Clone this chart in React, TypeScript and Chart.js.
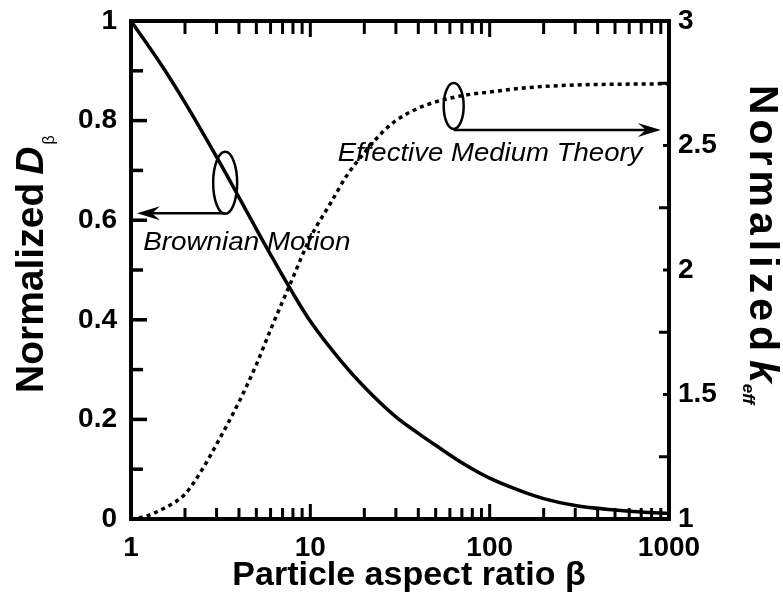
import React, { useEffect, useRef } from "react";
import { Chart, registerables } from "chart.js";

Chart.register(...registerables);

// Normalised Brownian diffusion coefficient D_beta (left axis)
const BROWNIAN_BETA = [1, 1.5, 2, 3, 4, 5, 6, 8, 10, 15, 20, 30, 40, 50, 70, 100, 150, 200, 300, 500, 700, 1000];
const BROWNIAN_D = [1.0, 0.908, 0.836, 0.727, 0.646, 0.582, 0.531, 0.453, 0.397, 0.315, 0.265, 0.205, 0.172, 0.148, 0.113, 0.082, 0.056, 0.041, 0.027, 0.018, 0.014, 0.011];

// Normalised effective-medium conductivity k_eff (right axis)
const EMT_BETA = [1, 1.2, 1.5, 2, 2.5, 3, 4, 5, 6, 8, 10, 13, 16, 20, 25, 30, 40, 50, 70, 100, 150, 200, 300, 500, 700, 1000];
const EMT_K = [1.0, 1.01, 1.04, 1.1, 1.2, 1.3, 1.47, 1.62, 1.76, 1.97, 2.13, 2.27, 2.38, 2.47, 2.55, 2.6, 2.65, 2.675, 2.7, 2.715, 2.73, 2.737, 2.743, 2.746, 2.747, 2.748];

// Axis ticks
const X_TICKS = [1, 10, 100, 1000];
const X_TICK_LABELS = ["1", "10", "100", "1000"];
const X_MINOR = [2, 3, 4, 5, 6, 7, 8, 9, 20, 30, 40, 50, 60, 70, 80, 90, 200, 300, 400, 500, 600, 700, 800, 900];
const LEFT_TICKS = [0, 0.2, 0.4, 0.6, 0.8, 1];
const LEFT_TICK_LABELS = ["0", "0.2", "0.4", "0.6", "0.8", "1"];
const LEFT_MINOR = [0.1, 0.3, 0.5, 0.7, 0.9];
const RIGHT_TICKS = [1, 1.5, 2, 2.5, 3];
const RIGHT_TICK_LABELS = ["1", "1.5", "2", "2.5", "3"];
const RIGHT_MINOR = [1.25, 1.75, 2.25, 2.75];

// Callouts, anchored in data units
const BROWNIAN_RING = { beta: 3.35, d: 0.675 };
const BROWNIAN_ARROW = { from: 3.35, to: 1.08, d: 0.614 };
const BROWNIAN_TEXT = { beta: 1.17, d: 0.54, text: "Brownian Motion" };
const EMT_RING = { beta: 63, k: 2.659 };
const EMT_ARROW = { from: 63, to: 900, k: 2.562 };
const EMT_TEXT = { beta: 14.2, k: 2.438, text: "Effective Medium Theory" };

const FONT = "'Liberation Sans', Arial, Helvetica, sans-serif";

function tickLine(ctx: CanvasRenderingContext2D, x1: number, y1: number, x2: number, y2: number) {
  ctx.beginPath();
  ctx.moveTo(x1, y1);
  ctx.lineTo(x2, y2);
  ctx.stroke();
}

function arrow(ctx: CanvasRenderingContext2D, x0: number, x1: number, y: number) {
  const dir = x1 > x0 ? 1 : -1;
  ctx.lineWidth = 2.5;
  tickLine(ctx, x0, y, x1 - dir * 12, y);
  ctx.beginPath();
  ctx.moveTo(x1, y);
  ctx.lineTo(x1 - dir * 23, y - 7);
  ctx.lineTo(x1 - dir * 15, y);
  ctx.lineTo(x1 - dir * 23, y + 7);
  ctx.closePath();
  ctx.fill();
}

function ring(ctx: CanvasRenderingContext2D, cx: number, cy: number, rx: number, ry: number) {
  ctx.lineWidth = 2.5;
  ctx.beginPath();
  ctx.ellipse(cx, cy, rx, ry, 0, 0, Math.PI * 2);
  ctx.stroke();
}

function stretchedText(ctx: CanvasRenderingContext2D, text: string, x: number, y: number, sx: number) {
  ctx.save();
  ctx.translate(x, y);
  ctx.scale(sx, 1);
  ctx.fillText(text, 0, 0);
  ctx.restore();
}

const frameAndNotes = {
  id: "frameAndNotes",
  afterDraw(chart: any) {
    const { ctx, chartArea: a, scales } = chart;
    const sx = scales.x;
    const sy = scales.y;
    const sy2 = scales.y2;
    ctx.save();
    ctx.strokeStyle = "#000";
    ctx.fillStyle = "#000";
    ctx.lineCap = "butt";

    // inward tick marks
    ctx.lineWidth = 3;
    X_TICKS.forEach((v) => {
      const px = sx.getPixelForValue(v);
      tickLine(ctx, px, a.bottom, px, a.bottom - 15);
      tickLine(ctx, px, a.top, px, a.top + 16);
    });
    X_MINOR.forEach((v) => {
      const px = sx.getPixelForValue(v);
      tickLine(ctx, px, a.bottom, px, a.bottom - 11);
      tickLine(ctx, px, a.top, px, a.top + 13);
    });
    ctx.lineWidth = 3.5;
    LEFT_TICKS.forEach((v) => {
      const py = sy.getPixelForValue(v);
      tickLine(ctx, a.left, py, a.left + 16, py);
    });
    LEFT_MINOR.forEach((v) => {
      const py = sy.getPixelForValue(v);
      tickLine(ctx, a.left, py, a.left + 12, py);
    });
    ctx.lineWidth = 3;
    RIGHT_TICKS.forEach((v) => {
      const py = sy2.getPixelForValue(v);
      tickLine(ctx, a.right, py, a.right - 6, py);
    });
    RIGHT_MINOR.forEach((v) => {
      const py = sy2.getPixelForValue(v);
      tickLine(ctx, a.right, py, a.right - 10, py);
    });

    // plot frame
    ctx.lineWidth = 4;
    ctx.strokeRect(a.left, a.top, a.right - a.left, a.bottom - a.top);

    // Brownian motion callout
    const bx = sx.getPixelForValue(BROWNIAN_RING.beta);
    const by = sy.getPixelForValue(BROWNIAN_RING.d);
    ring(ctx, bx, by, 12, 31);
    arrow(ctx, sx.getPixelForValue(BROWNIAN_ARROW.from), sx.getPixelForValue(BROWNIAN_ARROW.to), sy.getPixelForValue(BROWNIAN_ARROW.d));

    // effective medium callout
    const ex = sx.getPixelForValue(EMT_RING.beta);
    const ey = sy2.getPixelForValue(EMT_RING.k);
    ring(ctx, ex, ey, 10, 23);
    arrow(ctx, sx.getPixelForValue(EMT_ARROW.from), sx.getPixelForValue(EMT_ARROW.to), sy2.getPixelForValue(EMT_ARROW.k));

    ctx.font = `italic 26px ${FONT}`;
    ctx.textAlign = "left";
    ctx.textBaseline = "alphabetic";
    stretchedText(ctx, BROWNIAN_TEXT.text, sx.getPixelForValue(BROWNIAN_TEXT.beta), sy.getPixelForValue(BROWNIAN_TEXT.d), 1.07);
    stretchedText(ctx, EMT_TEXT.text, sx.getPixelForValue(EMT_TEXT.beta), sy2.getPixelForValue(EMT_TEXT.k), 1.06);

    // x-axis title
    ctx.font = `bold 34px ${FONT}`;
    ctx.textAlign = "center";
    ctx.fillText("Particle aspect ratio \u03b2", a.left + 278, a.bottom + 66);

    // left-axis title: Normalized D_beta
    ctx.save();
    ctx.translate(a.left - 88, a.bottom - 126);
    ctx.rotate(-Math.PI / 2);
    ctx.textAlign = "left";
    ctx.font = `bold 39px ${FONT}`;
    const w1 = ctx.measureText("Normalized").width;
    ctx.fillText("Normalized", 0, 0);
    ctx.font = `italic bold 39px ${FONT}`;
    ctx.fillText("D", w1 + 8, 0);
    const wD = ctx.measureText("D").width;
    ctx.font = `16px ${FONT}`;
    ctx.fillText("\u03b2", w1 + 8 + wD + 2, 11);
    ctx.restore();

    // right-axis title: Normalized k_eff
    ctx.save();
    ctx.translate(a.right + 81, a.top + 64);
    ctx.rotate(Math.PI / 2);
    ctx.textAlign = "left";
    ctx.font = `bold 41px ${FONT}`;
    (ctx as any).letterSpacing = "5px";
    const w2 = ctx.measureText("Normalized").width;
    ctx.fillText("Normalized", 0, 0);
    (ctx as any).letterSpacing = "0px";
    ctx.font = `italic bold 41px ${FONT}`;
    ctx.fillText("k", w2 + 4, 0);
    const wk = ctx.measureText("k").width;
    ctx.font = `italic bold 17px ${FONT}`;
    ctx.fillText("eff", w2 + 4 + wk + 1, 7);
    ctx.restore();

    ctx.restore();
  },
};

const tickFont = { family: FONT, size: 28, weight: "bold" as const };

// fixed scale footprints so the plot frame sits at a known place
const fitVertical = (width: number) => (s: any) => {
  s.width = width;
  s.paddingTop = 0;
  s.paddingBottom = 0;
};

export default function App() {
  const canvasRef = useRef<HTMLCanvasElement | null>(null);

  useEffect(() => {
    const canvas = canvasRef.current;
    if (!canvas) return;
    const chart = new Chart(canvas, {
      type: "line",
      data: {
        datasets: [
          {
            label: "Brownian Motion",
            data: BROWNIAN_BETA.map((b, i) => ({ x: b, y: BROWNIAN_D[i] })),
            yAxisID: "y",
            borderColor: "#000",
            borderWidth: 3.5,
            pointRadius: 0,
            cubicInterpolationMode: "monotone",
            fill: false,
          },
          {
            label: "Effective Medium Theory",
            data: EMT_BETA.map((b, i) => ({ x: b, y: EMT_K[i] })),
            yAxisID: "y2",
            borderColor: "#000",
            borderWidth: 3.5,
            borderDash: [4, 4],
            pointRadius: 0,
            cubicInterpolationMode: "monotone",
            fill: false,
          },
        ],
      },
      options: {
        responsive: false,
        animation: false,
        events: [],
        layout: { padding: { top: 21, left: 0, right: 0, bottom: 0 } },
        plugins: { legend: { display: false }, tooltip: { enabled: false }, title: { display: false } },
        scales: {
          x: {
            type: "logarithmic",
            position: "bottom",
            min: 1,
            max: 1000,
            afterBuildTicks: (s: any) => {
              s.ticks = X_TICKS.map((v) => ({ value: v }));
            },
            afterFit: (s: any) => {
              s.height = 80;
              s.paddingLeft = 0;
              s.paddingRight = 0;
            },
            grid: { display: false, drawTicks: false },
            border: { display: false },
            ticks: {
              autoSkip: false,
              maxRotation: 0,
              padding: 12,
              color: "#000",
              font: tickFont,
              callback: (v: any) => X_TICK_LABELS[X_TICKS.indexOf(Number(v))] ?? "",
            },
          },
          y: {
            type: "linear",
            position: "left",
            min: 0,
            max: 1,
            afterBuildTicks: (s: any) => {
              s.ticks = LEFT_TICKS.map((v) => ({ value: v }));
            },
            afterFit: fitVertical(131),
            grid: { display: false, drawTicks: false },
            border: { display: false },
            ticks: {
              padding: 14,
              color: "#000",
              font: tickFont,
              callback: (v: any) => LEFT_TICK_LABELS[LEFT_TICKS.indexOf(Number(v))] ?? "",
            },
          },
          y2: {
            type: "linear",
            position: "right",
            min: 1,
            max: 3,
            afterBuildTicks: (s: any) => {
              s.ticks = RIGHT_TICKS.map((v) => ({ value: v }));
            },
            afterFit: fitVertical(114),
            grid: { display: false, drawTicks: false },
            border: { display: false },
            ticks: {
              padding: 9,
              color: "#000",
              font: tickFont,
              callback: (v: any) => RIGHT_TICK_LABELS[RIGHT_TICKS.indexOf(Number(v))] ?? "",
            },
          },
        },
      },
      plugins: [frameAndNotes],
    } as any);
    return () => chart.destroy();
  }, []);

  return (
    <div style={{ position: "fixed", left: 0, top: 0, width: 783, height: 599, background: "#fff" }}>
      <canvas ref={canvasRef} width={783} height={599} style={{ display: "block" }} />
    </div>
  );
}
